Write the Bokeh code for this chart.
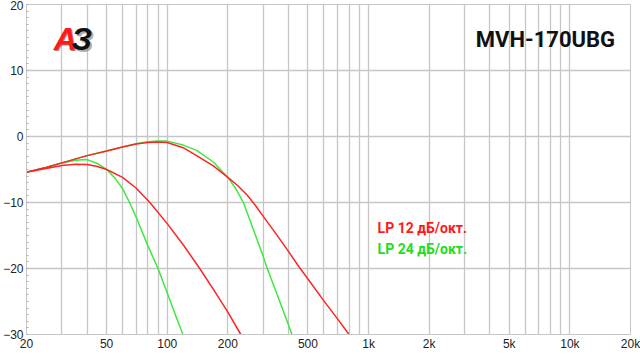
from bokeh.plotting import figure
from bokeh.models import FixedTicker, Label
from bokeh.embed import file_html
from bokeh.resources import INLINE

# ---- data ----
red_hi_f = [20, 25, 30, 40, 50, 60, 70, 80, 90, 100, 120, 140, 170, 200, 225, 250, 275, 300, 350, 400, 450, 500, 600, 700, 800, 850]
red_hi_db = [-5.4, -4.7, -4.0, -2.9, -2.2, -1.6, -1.15, -0.9, -0.85, -0.9, -1.7, -2.9, -4.5, -6.2, -7.5, -8.9, -10.5, -12.1, -14.9, -17.4, -19.7, -21.6, -24.9, -27.6, -30.0, -31.0]

green_hi_f = [20, 25, 30, 40, 50, 60, 70, 80, 90, 100, 120, 140, 170, 200, 220, 239, 270, 300, 314, 350, 394, 420, 440]
green_hi_db = [-5.4, -4.7, -4.0, -2.9, -2.2, -1.6, -1.1, -0.8, -0.7, -0.7, -1.3, -2.1, -3.9, -6.2, -8.0, -10.0, -14.4, -18.2, -20.0, -23.8, -28.0, -30.3, -31.9]

red_lo_f = [20, 25, 30, 35, 40, 45, 50, 60, 70, 82, 100, 120, 145, 174, 200, 232, 245]
red_lo_db = [-5.4, -4.85, -4.4, -4.2, -4.25, -4.55, -5.0, -6.2, -7.8, -10.0, -13.2, -16.4, -20.0, -23.7, -26.6, -30.0, -31.2]

green_lo_f = [20, 25, 30, 35, 40, 45, 50, 55, 60, 65, 70, 80, 90, 100, 110, 120, 125]
green_lo_db = [-5.4, -4.7, -4.0, -3.6, -3.5, -4.1, -5.0, -6.3, -7.9, -10.0, -12.2, -16.5, -20.0, -23.7, -27.1, -30.1, -31.5]

x_ticks = [20, 50, 100, 200, 500, 1000, 2000, 5000, 10000, 20000]
x_tick_labels = ["20", "50", "100", "200", "500", "1k", "2k", "5k", "10k", "20k"]
x_grid = [20, 30, 40, 50, 60, 70, 80, 90, 100, 200, 300, 400, 500, 600, 700, 800, 900,
          1000, 2000, 3000, 4000, 5000, 6000, 7000, 8000, 9000, 10000, 20000]
y_ticks = [-30, -20, -10, 0, 10, 20]

legend_labels = ["LP 12 дБ/окт.", "LP 24 дБ/окт."]
title_text = "MVH-170UBG"

RED = "#ff2424"
GREEN = "#3ee83e"
GRID = "#c6c6c6"

p = figure(width=640, height=354, x_axis_type="log", x_range=(20, 20000), y_range=(-30, 20),
           output_backend="svg", toolbar_location=None,
           min_border_left=23, min_border_right=10, min_border_top=4, min_border_bottom=20)
p.outline_line_color = GRID
p.background_fill_color = "white"
p.border_fill_color = "white"

# grids
p.xgrid.ticker = FixedTicker(ticks=x_grid)
p.xgrid.grid_line_color = GRID
p.xgrid.grid_line_width = 1.3
p.ygrid.ticker = FixedTicker(ticks=y_ticks)
p.ygrid.grid_line_color = GRID
p.ygrid.grid_line_width = 1.5

# axes
p.xaxis.ticker = FixedTicker(ticks=x_ticks)
p.xaxis.major_label_overrides = {t: l for t, l in zip(x_ticks, x_tick_labels)}
p.yaxis.ticker = FixedTicker(ticks=y_ticks, minor_ticks=list(range(-30, 21)))
for ax in (p.xaxis[0], p.yaxis[0]):
    ax.axis_line_color = GRID
    ax.major_tick_line_color = None
    ax.minor_tick_line_color = None
    ax.major_tick_out = 0
    ax.major_tick_in = 0
    ax.minor_tick_out = 0
    ax.minor_tick_in = 0
    ax.major_label_text_font = "Liberation Sans"
    ax.major_label_text_font_size = "12px"
    ax.major_label_text_color = "#222222"
p.yaxis.minor_tick_line_color = "#b0b0b0"
p.yaxis.minor_tick_in = 2
p.xaxis.major_label_standoff = 2
p.yaxis.major_label_standoff = 3

# curves
p.line(green_hi_f, green_hi_db, line_color=GREEN, line_width=1.5)
p.line(green_lo_f, green_lo_db, line_color=GREEN, line_width=1.5)
p.line(red_hi_f, red_hi_db, line_color=RED, line_width=1.5)
p.line(red_lo_f, red_lo_db, line_color=RED, line_width=1.5)

# texts
p.add_layout(Label(x=16770, y=14.7, text=title_text, text_align="right", text_baseline="alphabetic",
                   text_font="Roboto", text_font_style="bold", text_font_size="22px", text_color="#111111"))
p.add_layout(Label(x=1109, y=-13.8, text=legend_labels[0], text_baseline="alphabetic",
                   text_font="Roboto", text_font_style="bold", text_font_size="14px", text_color="#ff1a1a"))
p.add_layout(Label(x=1109, y=-17.0, text=legend_labels[1], text_baseline="alphabetic",
                   text_font="Roboto", text_font_style="bold", text_font_size="14px", text_color="#22dd22"))
p.add_layout(Label(x=15.8, y=16.0, text="дБ", text_baseline="alphabetic",
                   text_font="Liberation Sans", text_font_style="bold", text_font_size="12px", text_color="#222222"))
p.add_layout(Label(x=7740, y=-31.4, text="Гц", text_align="center", text_baseline="alphabetic",
                   text_font="Roboto", text_font_style="bold", text_font_size="13px", text_color="#222222"))
# logo
p.add_layout(Label(x=33.5, y=14.8, x_offset=2, y_offset=-2, text="З", text_baseline="alphabetic",
                   text_font="Liberation Sans", text_font_style="bold italic", text_font_size="32px",
                   text_color="#777777", text_alpha=0.6))
p.add_layout(Label(x=27.3, y=14.8, x_offset=1, y_offset=-1, text="А", text_baseline="alphabetic",
                   text_font="Liberation Sans", text_font_style="bold italic", text_font_size="32px",
                   text_color="#550000", text_alpha=0.5))
p.add_layout(Label(x=27.3, y=14.8, text="А", text_baseline="alphabetic",
                   text_font="Liberation Sans", text_font_style="bold italic", text_font_size="32px",
                   text_color="#ff1a1a"))
p.add_layout(Label(x=33.5, y=14.8, text="З", text_baseline="alphabetic",
                   text_font="Liberation Sans", text_font_style="bold italic", text_font_size="32px",
                   text_color="#111111"))

open("out.html", "w").write(file_html(p, INLINE))
